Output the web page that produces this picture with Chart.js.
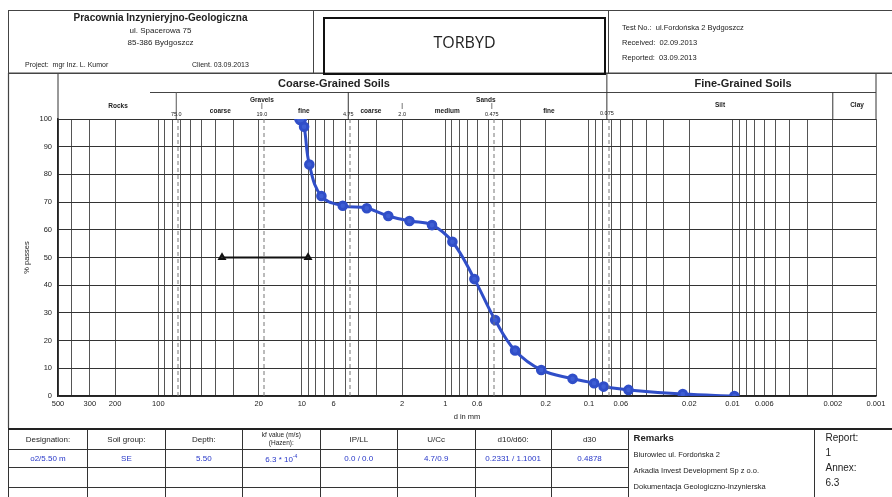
<!DOCTYPE html>
<html>
<head>
<meta charset="utf-8">
<title>TORBYD grain size</title>
<script src="https://cdn.jsdelivr.net/npm/chart.js"></script>
<style>
  body { margin: 0; background: #fff; font-family: "Liberation Sans", Arial, sans-serif; color: #222; }
  #page { position: relative; width: 892px; height: 497px; overflow: hidden; }
  #chart { position: absolute; left: 0; top: 0; }
  .abs { position: absolute; white-space: nowrap; }
  .hdr { position: absolute; left: 8px; top: 10px; width: 883px; height: 62px; border: 1px solid #444; border-right: none; }
  .vline { position: absolute; width: 0; border-left: 1px solid #444; }
  #torbyd { position: absolute; left: 323px; top: 17px; width: 279px; height: 54px; border: 2px solid #111;
            font: 16px "Open Sans", sans-serif; text-align: center; line-height: 46px; }
  table { position: absolute; left: 8px; top: 428px; border-collapse: collapse; table-layout: fixed; font-size: 8px; }
  td { border: 1px solid #333; text-align: center; padding: 0; overflow: hidden; white-space: nowrap; }
  tr.top td { border-top: 2px solid #222; }
  .blue { color: #2636c8; }
  td.rem { text-align: left; vertical-align: top; padding-left: 5px; font-size: 7.5px; line-height: 16px; border-bottom: none; }
  td.rep { text-align: left; vertical-align: top; padding-left: 10px; font-size: 10px; line-height: 15px; border-right: none; border-bottom: none; }
</style>
</head>
<body>
<div id="page">
  <canvas id="chart" width="892" height="497"></canvas>

  <div class="hdr"></div>
  <div class="vline" style="left:313px; top:10px; height:63px;"></div>
  <div class="vline" style="left:608px; top:10px; height:63px;"></div>
  <div id="torbyd">TORBYD</div>
  <div class="abs" style="left:8px; width:305px; top:12px; text-align:center; font-weight:bold; font-size:10px;">Pracownia Inzynieryjno-Geologiczna</div>
  <div class="abs" style="left:8px; width:305px; top:26px; text-align:center; font-size:8px;">ul. Spacerowa 75</div>
  <div class="abs" style="left:8px; width:305px; top:38px; text-align:center; font-size:8px;">85-386 Bydgoszcz</div>
  <div class="abs" style="left:25px; top:61px; font-size:7px;">Project:&nbsp; mgr Inz. L. Kumor</div>
  <div class="abs" style="left:192px; top:61px; font-size:7px;">Client. 03.09.2013</div>
  <div class="abs" style="left:622px; top:23px; font-size:7.5px;">Test No.:&nbsp; ul.Fordońska 2 Bydgoszcz</div>
  <div class="abs" style="left:622px; top:38px; font-size:7.5px;">Received:&nbsp; 02.09.2013</div>
  <div class="abs" style="left:622px; top:53px; font-size:7.5px;">Reported:&nbsp; 03.09.2013</div>

  <table>
    <colgroup>
      <col style="width:79px"><col style="width:78px"><col style="width:77px"><col style="width:78px">
      <col style="width:77px"><col style="width:78px"><col style="width:76px"><col style="width:77px">
      <col style="width:187px"><col style="width:77px">
    </colgroup>
    <tr class="top" style="height:20px">
      <td>Designation:</td><td>Soil group:</td><td>Depth:</td>
      <td style="font-size:6.5px; line-height:8px;">kf value (m/s)<br>(Hazen):</td>
      <td>IP/LL</td><td>U/Cc</td><td>d10/d60:</td><td>d30</td>
      <td class="rem" rowspan="4"><span style="font-size:9.5px; font-weight:bold;">Remarks</span><br>Biurowiec ul. Fordońska 2<br>Arkadia Invest Development Sp z o.o.<br>Dokumentacja Geologiczno-Inzynierska</td>
      <td class="rep" rowspan="4">Report:<br>1<br>Annex:<br>6.3</td>
    </tr>
    <tr style="height:18px" class="blue">
      <td>o2/5.50 m</td><td>SE</td><td>5.50</td><td>6.3 * 10<sup style="font-size:5px">-4</sup></td>
      <td>0.0 / 0.0</td><td>4.7/0.9</td><td>0.2331 / 1.1001</td><td>0.4878</td>
    </tr>
    <tr style="height:20px"><td></td><td></td><td></td><td></td><td></td><td></td><td></td><td></td></tr>
    <tr style="height:12px"><td></td><td></td><td></td><td></td><td></td><td></td><td></td><td></td></tr>
  </table>
</div>

<script>
// sieve results: grain diameter (mm) and percent passing
const diameters = [10.2, 9.65, 8.87, 7.31, 5.19, 3.53, 2.50, 1.78, 1.24, 0.894, 0.628, 0.450, 0.327, 0.215, 0.130, 0.092, 0.079, 0.053, 0.0222, 0.0097];
const passing   = [100, 97.2, 83.6, 72.2, 68.7, 67.8, 65.0, 63.2, 61.7, 55.7, 42.2, 27.4, 16.4, 9.4, 6.2, 4.6, 3.4, 2.2, 0.7, 0];

// range marker at 50 %
const rangeDiameters = [36.0, 9.06];
const rangePassing = [50, 50];

// axis
const xTickLabels = [500, 300, 200, 100, 20, 10, 6, 2, 1, 0.6, 0.2, 0.1, 0.06, 0.02, 0.01, 0.006, 0.002, 0.001];
const xMin = 0.001, xMax = 500;
const fractionBounds = [75.0, 19.0, 4.75, 0.475, 0.075];

const round3 = v => parseFloat(v.toPrecision(3));
const gridValues = [];
for (let e = -3; e <= 2; e++) {
  for (let m = 1; m <= 9; m++) {
    const v = round3(m * Math.pow(10, e));
    if (v >= xMin && v <= xMax) gridValues.push(v);
  }
}

const headerBand = {
  id: 'headerBand',
  afterDraw(chart) {
    const ctx = chart.ctx;
    const x = chart.scales.x;
    const area = chart.chartArea;
    const px = v => x.getPixelForValue(v);
    const line = (x1, y1, x2, y2, w, col) => {
      ctx.beginPath();
      ctx.lineWidth = w || 1;
      ctx.strokeStyle = col || '#333';
      ctx.moveTo(x1, y1);
      ctx.lineTo(x2, y2);
      ctx.stroke();
    };
    ctx.save();
    // dashed fraction boundaries
    ctx.setLineDash([4, 3]);
    fractionBounds.forEach(b => {
      const xx = Math.round(px(b)) + 0.5;
      line(xx + 1.5, area.top, xx + 1.5, area.bottom, 1, '#777');
    });
    ctx.setLineDash([]);

    // band frame
    line(8, 73, 892, 73, 1.2, '#444');
    line(8.5, 73, 8.5, 428, 1.2, '#444');
    line(area.left, 73, area.left, area.top, 1, '#333');
    line(area.right, 73, area.right, area.top, 1, '#333');
    line(150, 92.5, area.right, 92.5, 1, '#444');
    line(px(75.0), 92, px(75.0), area.top, 1, '#555');
    line(px(4.75), 92, px(4.75), area.top, 1, '#333');
    line(px(0.075), 73, px(0.075), area.top, 1, '#333');
    line(px(0.002), 92, px(0.002), area.top, 1, '#333');
    [19.0, 2.0, 0.475].forEach(v => line(px(v), 103, px(v), 109, 0.8, '#555'));

    // texts
    ctx.fillStyle = '#222';
    ctx.textAlign = 'center';
    ctx.textBaseline = 'middle';
    const txt = (s, xx, yy, font) => { ctx.font = font; ctx.fillText(s, xx, yy); };
    const bold11 = 'bold 11px "Liberation Sans", Arial';
    const sub = 'bold 6.5px "Liberation Sans", Arial';
    const num = '5.5px "Liberation Sans", Arial';
    txt('Coarse-Grained Soils', 334, 84, bold11);
    txt('Fine-Grained Soils', 743, 84, bold11);
    txt('Rocks', 118, 106, sub);
    txt('Gravels', px(19.0), 100, sub);
    txt('coarse', px(37), 111, sub);
    txt('fine', px(9.7), 111, sub);
    txt('Sands', px(0.475) - 6, 100, sub);
    txt('coarse', px(3.3), 111, sub);
    txt('medium', px(0.97), 111, sub);
    txt('fine', px(0.19), 111, sub);
    txt('Silt', 720, 105, sub);
    txt('Clay', 857, 105, sub);
    txt('75.0', px(75.0), 114, num);
    txt('19.0', px(19.0), 114, num);
    txt('4.75', px(4.75), 114, num);
    txt('2.0', px(2.0), 114, num);
    txt('0.475', px(0.475), 114, num);
    txt('0.075', px(0.075), 113, num);
    ctx.restore();
  }
};

new Chart(document.getElementById('chart'), {
  type: 'scatter',
  data: {
    datasets: [
      {
        data: diameters.map((d, i) => ({ x: d, y: passing[i] })),
        showLine: true,
        borderColor: 'rgb(48, 78, 200)',
        backgroundColor: 'rgb(62, 94, 212)',
        borderWidth: 3,
        pointRadius: c => c.dataIndex === 0 ? 5 : 3.8,
        tension: 0.4
      },
      {
        data: rangeDiameters.map((d, i) => ({ x: d, y: rangePassing[i] })),
        showLine: true,
        borderColor: '#111',
        backgroundColor: '#333',
        borderWidth: 2,
        pointStyle: 'triangle',
        pointRadius: 3.2
      }
    ]
  },
  options: {
    responsive: false,
    animation: false,
    layout: { padding: { top: 119, left: 8, right: 16, bottom: 67 } },
    plugins: { legend: { display: false }, tooltip: { enabled: false } },
    scales: {
      x: {
        type: 'logarithmic',
        reverse: true,
        min: xMin,
        max: xMax,
        afterBuildTicks: s => { s.ticks = gridValues.map(v => ({ value: v })); },
        afterFit: s => { s.height = 34; },
        ticks: {
          autoSkip: false,
          maxRotation: 0,
          padding: 3,
          color: '#222',
          font: { size: 7.5, family: '"Liberation Sans", Arial' },
          callback: v => xTickLabels.includes(round3(v)) ? String(round3(v)) : ''
        },
        grid: { color: '#555', lineWidth: 1, drawTicks: false },
        border: { color: '#222', width: 1.5 },
        title: { display: true, text: 'd in mm', color: '#222', font: { size: 7.5, family: '"Liberation Sans", Arial' }, padding: { top: 0, bottom: 9 } }
      },
      y: {
        min: 0,
        max: 100,
        afterFit: s => { s.width = 50; },
        ticks: { stepSize: 10, padding: 6, color: '#222', font: { size: 7.5, family: '"Liberation Sans", Arial' } },
        grid: { color: '#333', lineWidth: 1, drawTicks: false },
        border: { color: '#222', width: 1.5 },
        title: { display: true, text: '% passes', color: '#222', font: { size: 7.5, family: '"Liberation Sans", Arial' }, padding: { top: 14 } }
      }
    }
  },
  plugins: [headerBand]
});
</script>
</body>
</html>
